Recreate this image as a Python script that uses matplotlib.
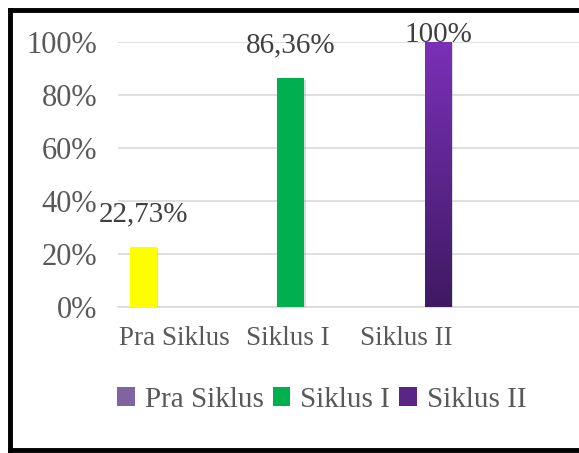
import numpy as np
import matplotlib
matplotlib.use("Agg")
import matplotlib.pyplot as plt
from matplotlib.lines import Line2D
from matplotlib.patches import Patch
import matplotlib.patheffects as pe

# data
categories = ["Pra Siklus", "Siklus I", "Siklus II"]
values = [22.73, 86.36, 100.0]
value_labels = ["22,73%", "86,36%", "100%"]
legend_names = ["Pra Siklus", "Siklus I", "Siklus II"]
yticks = [0, 20, 40, 60, 80, 100]

bar_colors = ["#FFFF00", "#00B050", "#6A2A9E"]
legend_colors = ["#8064A2", "#00B050", "#5B2588"]
text_gray = "#595959"

plt.rcParams["font.family"] = ["Liberation Serif", "DejaVu Serif"]

fig = plt.figure(figsize=(5.79, 4.53), dpi=100)
ax = fig.add_axes([0.2038, 0.3223, 0.7962, 0.585])

x = np.arange(len(categories))
bars = ax.bar(x, values, width=0.183, color=bar_colors, zorder=3)

shadow = [pe.SimplePatchShadow(offset=(1, -1), shadow_rgbFace="#999999", alpha=0.35),
          pe.Normal()]
for b in bars:
    b.set_path_effects(shadow)

# gradient on the last bar (lighter purple on top, dark at bottom)
last = bars[-1]
grad = np.linspace(1, 0, 256).reshape(-1, 1)
cmap = matplotlib.colors.LinearSegmentedColormap.from_list("pur", ["#3E1A62", "#7B30B8"])
im = ax.imshow(grad, cmap=cmap, aspect="auto", zorder=4,
               extent=[last.get_x(), last.get_x() + last.get_width(), 0, last.get_height()])
im.set_clip_path(last)

# value labels
for xi, v, lab in zip(x, values, value_labels):
    ax.text(xi, min(v + 7.5, 97.7), lab, ha="center", va="bottom",
            fontsize=21, color="#404040", zorder=5)

ax.set_xlim(-0.173, 2.953)
ax.set_ylim(0, 100)
ax.set_yticks(yticks)
ax.set_yticklabels([f"{t}%" for t in yticks])
ax.yaxis.grid(True, color="#D9D9D9", linewidth=1.2, zorder=0)
ax.set_axisbelow(True)

label_pos = [0.21, 0.98, 1.78]
ax.set_xticks(label_pos)
ax.set_xticklabels(categories)

ax.tick_params(axis="y", length=0, pad=15, labelsize=22, labelcolor=text_gray)
ax.tick_params(axis="x", length=0, pad=14, labelsize=19.5, labelcolor=text_gray)
for s in ["top", "right", "left"]:
    ax.spines[s].set_visible(False)
ax.spines["bottom"].set_color("#D9D9D9")
ax.spines["bottom"].set_linewidth(1.2)

# legend
handles = [Patch(facecolor=c, edgecolor="none") for c in legend_colors]
fig.legend(handles, legend_names, loc="center", bbox_to_anchor=(0.556, 0.117),
           ncol=3, frameon=False, fontsize=21, labelcolor=text_gray,
           handlelength=0.6, handleheight=0.6, handletextpad=0.35,
           columnspacing=0.3)

# outer border (left, top, bottom)
bw = 3.5
fig.add_artist(Line2D([0.0173, 0.0173], [0.006, 0.978], transform=fig.transFigure,
                      color="black", linewidth=bw))
fig.add_artist(Line2D([0.0173, 1.0], [0.978, 0.978], transform=fig.transFigure,
                      color="black", linewidth=bw))
fig.add_artist(Line2D([0.0173, 1.0], [0.006, 0.006], transform=fig.transFigure,
                      color="black", linewidth=bw))

fig.savefig("out.png", dpi=100)
